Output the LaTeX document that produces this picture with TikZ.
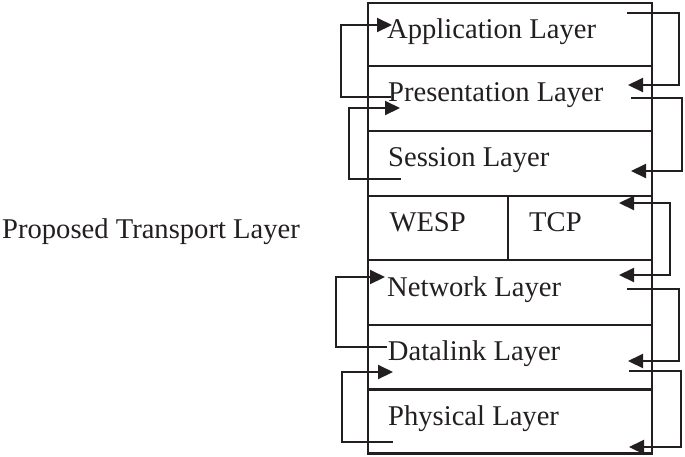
\documentclass[tikz,border=0pt]{standalone}
\usepackage{fontspec}
\setmainfont{Liberation Serif}
\usetikzlibrary{arrows.meta}
\definecolor{ink}{HTML}{231F20}
\begin{document}
\begin{tikzpicture}[x=1pt,y=-1pt,
  layerbox/.style={draw=ink,line width=2.1pt,inner sep=0pt,outer sep=0pt,minimum width=283.7pt},
  lbl/.style={anchor=base west,inner sep=0pt,text=ink,font=\fontsize{28.6}{30}\selectfont},
  arr/.style={draw=ink,line width=2.1pt,-{Triangle[length=15pt,width=14pt]}},
  darr/.style={draw=ink,line width=2.1pt,{Triangle[length=15pt,width=14pt]}-{Triangle[length=15pt,width=14pt]}}]
\useasboundingbox (0,0) rectangle (685,456);
% layers
\node[layerbox,minimum height=63.3pt] (app) at (510.15,34.35) {};
\node[layerbox,minimum height=65pt] (pres) at (510.15,98.5) {};
\node[layerbox,minimum height=65pt] (sess) at (510.15,163.5) {};
\node[layerbox,minimum height=64pt,minimum width=140pt] (wesp) at (438.3,228) {};
\node[layerbox,minimum height=64pt,minimum width=143.7pt] (tcp) at (580.15,228) {};
\node[layerbox,minimum height=65pt] (net) at (510.15,292.5) {};
\node[layerbox,minimum height=64.5pt] (dl) at (510.15,357.25) {};
\node[layerbox,minimum height=64pt] (phy) at (510.15,421.5) {};
% labels
\node[lbl] (appT) at (387,38) {Application Layer};
\node[lbl] (presT) at (388,101.7) {Presentation Layer};
\node[lbl] (sessT) at (388,166.7) {Session Layer};
\node[lbl] (wespT) at (389.3,231.7) {WESP};
\node[lbl] (tcpT) at (529,231.7) {TCP};
\node[lbl] (netT) at (387,296.7) {Network Layer};
\node[lbl] (dlT) at (387.7,360.7) {Datalink Layer};
\node[lbl] (phyT) at (388,425) {Physical Layer};
\node[lbl] (prop) at (2,238.3) {Proposed Transport Layer};
% connector end points
\coordinate (s1) at (391,97);  \coordinate (e1) at (392,25);
\coordinate (s2) at (627,13);  \coordinate (e2) at (628,85);
\coordinate (s3) at (401,179); \coordinate (e3) at (400,108);
\coordinate (s4) at (631,98);  \coordinate (e4) at (631,171);
\coordinate (s5) at (619,203); \coordinate (e5) at (619,275);
\coordinate (s6) at (387,347); \coordinate (e6) at (385,277);
\coordinate (s7) at (627,289); \coordinate (e7) at (628,361);
\coordinate (s8) at (393,442); \coordinate (e8) at (393,372);
\coordinate (s9) at (629,371); \coordinate (e9) at (629,447);
% connectors
\draw[arr] (s1) -- ++(-50,0) |- (e1);
\draw[arr] (s2) -- ++(52,0) |- (e2);
\draw[arr] (s3) -- ++(-52,0) |- (e3);
\draw[arr] (s4) -- ++(51,0) |- (e4);
\draw[darr] (s5) -- ++(51,0) |- (e5);
\draw[arr] (s6) -- ++(-51,0) |- (e6);
\draw[arr] (s7) -- ++(52,0) |- (e7);
\draw[arr] (s8) -- ++(-51,0) |- (e8);
\draw[arr] (s9) -- ++(52,0) |- (e9);
\end{tikzpicture}
\end{document}
